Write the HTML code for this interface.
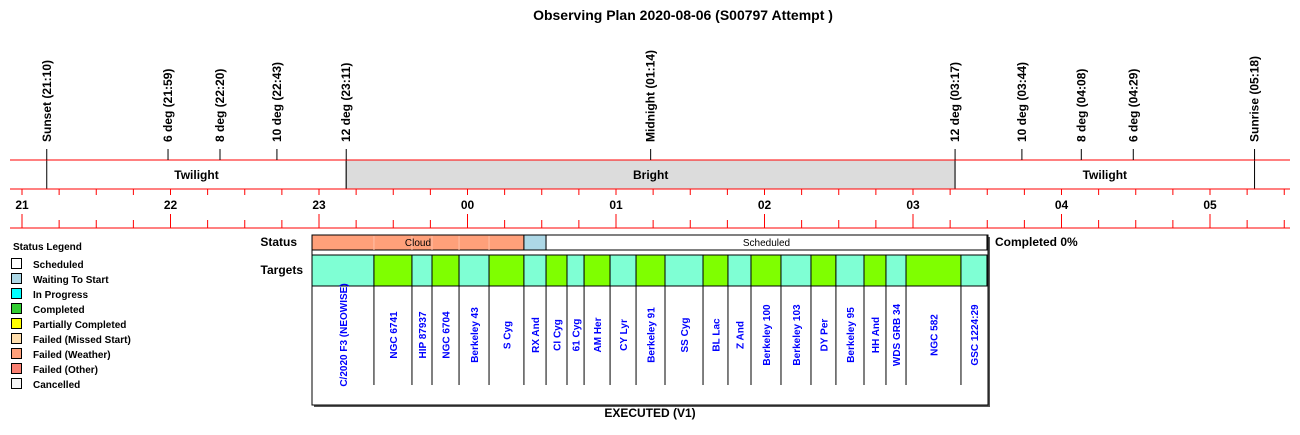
<!DOCTYPE html>
<html><head><meta charset="utf-8"><style>
html,body{margin:0;padding:0;background:#fff;}
svg{display:block;font-family:"Liberation Sans",Arial,sans-serif;}
</style></head><body>
<svg id="chart" width="1300" height="435" viewBox="0 0 1300 435" xmlns="http://www.w3.org/2000/svg">
<text x="683" y="20" text-anchor="middle" font-size="14" font-weight="bold">Observing Plan 2020-08-06 (S00797 Attempt )</text>
<g id="axis"></g>
<g id="events"></g>
<g id="status"></g>
<g id="targets"></g>
<g id="legend"></g>
<text x="297" y="246" text-anchor="end" font-size="12" font-weight="bold">Status</text>
<text x="303" y="274" text-anchor="end" font-size="12" font-weight="bold">Targets</text>
<text x="995" y="246" font-size="12" font-weight="bold">Completed 0%</text>
<text x="650" y="417" text-anchor="middle" font-size="12" font-weight="bold">EXECUTED (V1)</text>
</svg>
<script>
// hours since midnight of start day (values >24 are after midnight)
const hourTicks = [21,22,23,24,25,26,27,28,29];
const hourLabels = ["21","22","23","00","01","02","03","04","05"];
const eventNames = ["Sunset (21:10)","6 deg (21:59)","8 deg (22:20)","10 deg (22:43)","12 deg (23:11)","Midnight (01:14)","12 deg (03:17)","10 deg (03:44)","8 deg (04:08)","6 deg (04:29)","Sunrise (05:18)"];
const eventTimes = [21+10/60,21+59/60,22+20/60,22+43/60,23+11/60,25+14/60,27+17/60,27+44/60,28+8/60,28+29/60,29+18/60];
const bandNames = ["Twilight","Bright","Twilight"];
const bandStarts = [21+10/60,23+11/60,27+17/60];
const bandEnds = [23+11/60,27+17/60,29+18/60];
const targetNames = ["C/2020 F3 (NEOWISE)","NGC 6741","HIP 87937","NGC 6704","Berkeley 43","S Cyg","RX And","CI Cyg","61 Cyg","AM Her","CY Lyr","Berkeley 91","SS Cyg","BL Lac","Z And","Berkeley 100","Berkeley 103","DY Per","Berkeley 95","HH And","WDS GRB 34","NGC 582","GSC 1224:29"];
const targetStarts = [22.953,23.370,23.626,23.761,23.943,24.145,24.380,24.529,24.670,24.785,24.960,25.135,25.330,25.586,25.754,25.909,26.111,26.313,26.481,26.670,26.818,26.953,27.323];
const targetEnds = [23.370,23.626,23.761,23.943,24.145,24.380,24.529,24.670,24.785,24.960,25.135,25.330,25.586,25.754,25.909,26.111,26.313,26.481,26.670,26.818,26.953,27.323,27.498];
const statusNames = ["Cloud","","Scheduled"];
const statusStarts = [22.953,24.380,24.529];
const statusEnds = [24.380,24.529,27.498];
const statusColors = ["#ffa07a","#add8e6","#ffffff"];
const legendNames = ["Scheduled","Waiting To Start","In Progress","Completed","Partially Completed","Failed (Missed Start)","Failed (Weather)","Failed (Other)","Cancelled"];
const legendColors = ["#ffffff","#add8e6","#00ffff","#32cd32","#ffff00","#ffdead","#ffa07a","#fa8072","#f5f5f5"];

const NS="http://www.w3.org/2000/svg";
const X0=22, PPH=148.5, H0=21;
const x = h => X0 + (h-H0)*PPH;
function mk(tag, attrs, parent, txt){const e=document.createElementNS(NS,tag);for(const k in attrs)e.setAttribute(k,attrs[k]);if(txt!==undefined)e.textContent=txt;parent.appendChild(e);return e;}

const axis=document.getElementById('axis');
// bands
bandNames.forEach((n,i)=>{
  const r=mk('rect',{x:x(bandStarts[i]),y:160,width:x(bandEnds[i])-x(bandStarts[i]),height:29,fill:n==="Bright"?"#dcdcdc":"#fff",stroke:"#000","stroke-width":1},axis);
  
  
  const t=mk('text',{x:(x(bandStarts[i])+x(bandEnds[i]))/2,y:179,"text-anchor":"middle","font-size":12,"font-weight":"bold"},axis,n);
  
  
});
[160,189,228].forEach(yy=>{const l=mk('line',{x1:10,x2:1290,y1:yy,y2:yy,stroke:"#f00","stroke-width":1},axis);
  
  });
// quarter ticks
for(let q=20.75*4;q<=29.5*4;q++){
  const h=q/4, xx=x(h); if(xx<10||xx>1290) continue;
  const t1=mk('line',{x1:xx,x2:xx,y1:189,y2:195,stroke:"#f00"},axis);
  
  
  const isHour = q%4===0;
  const t2=mk('line',{x1:xx,x2:xx,y1:isHour?214:220,y2:228,stroke:"#f00"},axis);
  
  
}
hourTicks.forEach((h,i)=>{const t=mk('text',{x:x(h),y:209,"text-anchor":"middle","font-size":12,"font-weight":"bold"},axis,hourLabels[i]);
  
  });
// events
const ev=document.getElementById('events');
eventNames.forEach((n,i)=>{
  const xx=x(eventTimes[i]);
  const l=mk('line',{x1:xx,x2:xx,y1:149,y2:160,stroke:"#000"},ev);
  
  
  const t=mk('text',{x:0,y:0,transform:`translate(${xx+4},142) rotate(-90)`,"font-size":12,"font-weight":"bold"},ev,n);
  
  
});
// status box
const st=document.getElementById('status');
const sh=mk('rect',{x:314,y:237,width:676,height:170,fill:"#555"},st);


const box=mk('rect',{x:312,y:235,width:676,height:170,fill:"#fff",stroke:"#000","stroke-width":1},st);


statusNames.forEach((n,i)=>{
  const r=mk('rect',{x:x(statusStarts[i]),y:235,width:x(statusEnds[i])-x(statusStarts[i]),height:15,fill:statusColors[i],stroke:"#000","stroke-width":1},st);
  
  
  if(n){const t=mk('text',{x:(x(statusStarts[i])+x(statusEnds[i]))/2,y:246,"text-anchor":"middle","font-size":10},st,n);
    
    }
});
// faint dividers inside cloud
targetStarts.forEach(s=>{ if(s>statusStarts[0]+0.01 && s<statusEnds[0]-0.01){
  const l=mk('line',{x1:x(s),x2:x(s),y1:236,y2:250,stroke:"#ffc0a8"},st);
  
  }});
// targets
const tg=document.getElementById('targets');
targetNames.forEach((n,i)=>{
  const x1=x(targetStarts[i]), x2=x(targetEnds[i]);
  const r=mk('rect',{x:x1,y:255,width:x2-x1,height:31,fill:i%2?"#7fff00":"#7fffd4",stroke:"#000","stroke-width":1},tg);
  
  
  if(i>0){const l=mk('line',{x1:x1,x2:x1,y1:286,y2:385,stroke:"#000"},tg);
    
    }
  const t=mk('text',{x:0,y:0,transform:`translate(${(x1+x2)/2+4},335) rotate(-90)`,"text-anchor":"middle","font-size":10,"font-weight":"bold",fill:"#0000ff"},tg,n);
  
  
});
// legend
const lg=document.getElementById('legend');
const lt=mk('text',{x:13,y:250,"font-size":10,"font-weight":"bold"},lg,"Status Legend");


legendNames.forEach((n,i)=>{
  const yy=258+i*15;
  const r=mk('rect',{x:11.5,y:yy+0.5,width:10,height:10,fill:legendColors[i],stroke:"#000"},lg);
  
  
  const t=mk('text',{x:33,y:yy+10,"font-size":10,"font-weight":"bold"},lg,n);
  
  
});
</script>
</body></html>
